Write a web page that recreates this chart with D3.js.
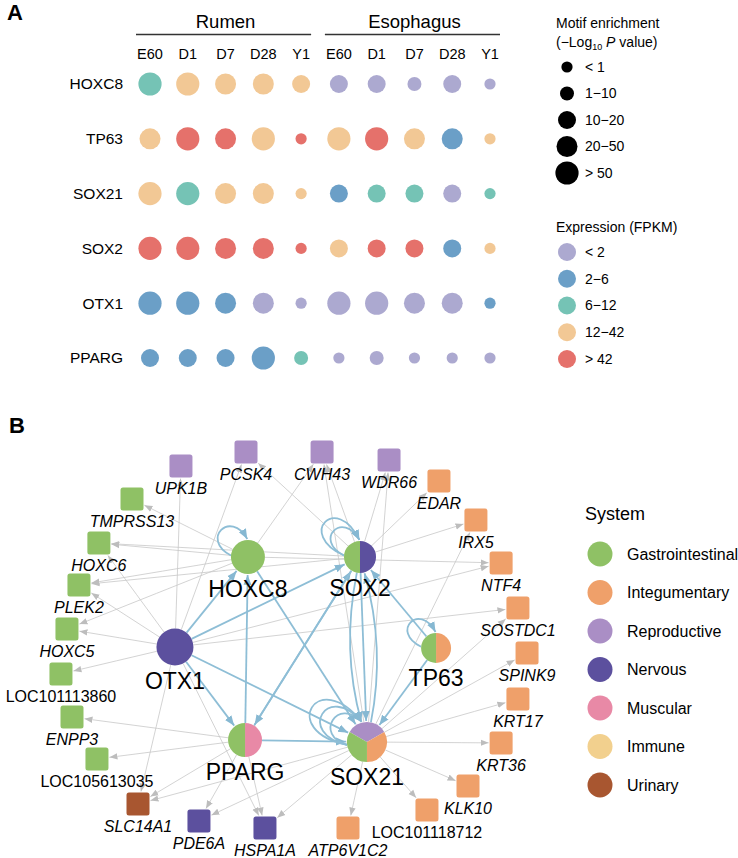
<!DOCTYPE html>
<html>
<head>
<meta charset="utf-8">
<script src="https://cdn.jsdelivr.net/npm/d3@7"></script>
<style>
  body { margin: 0; background: #fff; }
  svg { font-family: "Liberation Sans", Arial, sans-serif; }
</style>
</head>
<body>
<div id="chart"></div>
<script>
// ---------- Panel A data ----------
const tissues = ["Rumen", "Esophagus"];
const timepoints = ["E60", "D1", "D7", "D28", "Y1"];
const tfs = ["HOXC8", "TP63", "SOX21", "SOX2", "OTX1", "PPARG"];
const motifLabels = ["< 1", "1\u221210", "10\u221220", "20\u221250", "> 50"];
const exprLabels = ["< 2", "2\u22126", "6\u221212", "12\u221242", "> 42"];
// class index per TF (row) and sample (Rumen E60..Y1, Esophagus E60..Y1)
const motifClass = [
  [4, 4, 3, 3, 2, 2, 2, 1, 2, 0],
  [3, 4, 3, 4, 0, 4, 4, 3, 3, 0],
  [4, 4, 3, 3, 0, 2, 2, 2, 2, 0],
  [4, 4, 3, 3, 0, 2, 2, 2, 2, 0],
  [4, 4, 3, 3, 0, 4, 4, 3, 3, 0],
  [2, 2, 2, 4, 1, 0, 1, 0, 0, 0]
];
const exprClass = [
  [2, 3, 3, 3, 3, 0, 0, 0, 0, 0],
  [3, 4, 4, 3, 4, 3, 4, 3, 1, 3],
  [3, 2, 3, 3, 3, 1, 2, 2, 0, 2],
  [4, 4, 4, 4, 4, 3, 4, 4, 1, 3],
  [1, 1, 1, 0, 0, 0, 0, 0, 0, 1],
  [1, 1, 1, 1, 2, 0, 0, 0, 0, 0]
];

// ---------- Panel B data ----------
const systems = ["Gastrointestinal", "Integumentary", "Reproductive", "Nervous", "Muscular", "Immune", "Urinary"];
const hubs = ["HOXC8", "SOX2", "OTX1", "TP63", "PPARG", "SOX21"];
// systems of each hub, clockwise from 12 o'clock
const hubSystems = [
  ["Gastrointestinal"],
  ["Nervous", "Gastrointestinal"],
  ["Nervous"],
  ["Integumentary", "Gastrointestinal"],
  ["Muscular", "Gastrointestinal"],
  ["Reproductive", "Integumentary", "Gastrointestinal"]
];
const targets = ["UPK1B", "PCSK4", "CWH43", "WDR66", "EDAR", "IRX5", "NTF4", "SOSTDC1", "SPINK9",
  "KRT17", "KRT36", "KLK10", "LOC101118712", "ATP6V1C2", "HSPA1A", "PDE6A", "SLC14A1",
  "LOC105613035", "ENPP3", "LOC101113860", "HOXC5", "PLEK2", "HOXC6", "TMPRSS13"];
const targetSystems = ["Reproductive", "Reproductive", "Reproductive", "Reproductive",
  "Integumentary", "Integumentary", "Integumentary", "Integumentary", "Integumentary",
  "Integumentary", "Integumentary", "Integumentary", "Integumentary", "Integumentary",
  "Nervous", "Nervous", "Urinary",
  "Gastrointestinal", "Gastrointestinal", "Gastrointestinal", "Gastrointestinal",
  "Gastrointestinal", "Gastrointestinal", "Gastrointestinal"];
// TF -> TF regulation
const tfEdges = [
  ["OTX1", "HOXC8"], ["OTX1", "SOX2"], ["OTX1", "PPARG"], ["OTX1", "SOX21"],
  ["PPARG", "SOX21"], ["PPARG", "HOXC8"], ["PPARG", "SOX2"],
  ["HOXC8", "SOX21"], ["SOX2", "SOX21"], ["SOX2", "PPARG"],
  ["TP63", "SOX2"], ["TP63", "SOX21"]
];
const tfEdgesCurved = [["SOX2", "SOX21"], ["SOX21", "SOX2"]];
const selfLoops = [["HOXC8", 1], ["SOX2", 2], ["TP63", 1], ["SOX21", 3]];
// TF -> target gene
const targetEdges = [
  ["HOXC8", "TMPRSS13"], ["HOXC8", "HOXC6"], ["HOXC8", "PLEK2"], ["HOXC8", "HOXC5"], ["HOXC8", "CWH43"], ["HOXC8", "NTF4"],
  ["SOX2", "PCSK4"], ["SOX2", "CWH43"], ["SOX2", "WDR66"], ["SOX2", "EDAR"], ["SOX2", "IRX5"], ["SOX2", "PLEK2"], ["SOX2", "HOXC6"],
  ["OTX1", "UPK1B"], ["OTX1", "PCSK4"], ["OTX1", "HOXC6"], ["OTX1", "PLEK2"], ["OTX1", "HOXC5"], ["OTX1", "LOC101113860"],
  ["OTX1", "SLC14A1"], ["OTX1", "HSPA1A"], ["OTX1", "SOSTDC1"], ["OTX1", "NTF4"],
  ["PPARG", "ENPP3"], ["PPARG", "LOC105613035"], ["PPARG", "SLC14A1"], ["PPARG", "PDE6A"], ["PPARG", "HSPA1A"],
  ["SOX21", "SOSTDC1"], ["SOX21", "SPINK9"], ["SOX21", "KRT17"], ["SOX21", "KRT36"], ["SOX21", "KLK10"],
  ["SOX21", "LOC101118712"], ["SOX21", "ATP6V1C2"], ["SOX21", "HSPA1A"], ["SOX21", "PDE6A"], ["SOX21", "SLC14A1"],
  ["SOX21", "IRX5"], ["SOX21", "WDR66"], ["SOX21", "CWH43"]
];

// ---------- layout of the network (normalised frame) ----------
const layout = {
  HOXC8: [-0.217, -0.426], SOX2: [0.25, -0.426], OTX1: [-0.521, 0.036], TP63: [0.567, 0.041],
  PPARG: [-0.229, 0.513], SOX21: [0.279, 0.523],
  UPK1B: [-0.496, -0.892], PCSK4: [-0.225, -0.964], CWH43: [0.092, -0.964], WDR66: [0.371, -0.923],
  EDAR: [0.579, -0.815], IRX5: [0.733, -0.615], NTF4: [0.838, -0.395], SOSTDC1: [0.908, -0.164],
  SPINK9: [0.946, 0.067], KRT17: [0.908, 0.303], KRT36: [0.838, 0.528], KLK10: [0.7, 0.749],
  LOC101118712: [0.529, 0.872], ATP6V1C2: [0.2, 0.964], HSPA1A: [-0.146, 0.964], PDE6A: [-0.421, 0.928],
  SLC14A1: [-0.675, 0.841], LOC105613035: [-0.846, 0.61], ENPP3: [-0.95, 0.395], LOC101113860: [-0.996, 0.174],
  HOXC5: [-0.971, -0.056], PLEK2: [-0.921, -0.282], HOXC6: [-0.838, -0.497], TMPRSS13: [-0.7, -0.723]
};
const hubRadius = { HOXC8: 17, SOX2: 16, OTX1: 18.5, TP63: 15, PPARG: 17, SOX21: 20 };
// loop orientation (start / end angle in degrees) per hub
const loopAngles = { HOXC8: [185, 268], SOX2: [185, 268], TP63: [185, 268], SOX21: [172, 255] };

const W = 738, H = 858;
const svg = d3.select("#chart").append("svg")
  .attr("width", W).attr("height", H);
svg.append("rect").attr("width", W).attr("height", H).attr("fill", "#fff");

// ================= Panel A =================
const exprColors = ["#ACA9D0", "#6B9FC7", "#75C3B5", "#F2C895", "#E5716B"];
const sampleIdx = d3.range(tissues.length * timepoints.length);
const x = d3.scalePoint().domain(sampleIdx).range([150, 490]);
const y = d3.scalePoint().domain(tfs).range([84, 358]);
const r = d3.scaleOrdinal().domain(d3.range(5)).range([5.6, 7, 9, 10.5, 11.6]);
const col = d3.scaleOrdinal().domain(d3.range(5)).range(exprColors);

svg.append("text").attr("x", 7).attr("y", 20)
  .attr("font-size", 22).attr("font-weight", "bold").text("A");

tissues.forEach((t, i) => {
  const x0 = x(i * 5), x1 = x(i * 5 + 4);
  svg.append("text").attr("x", (x0 + x1) / 2).attr("y", 28)
    .attr("text-anchor", "middle").attr("font-size", 18.5).text(t);
  svg.append("line").attr("x1", x0 - 14).attr("x2", x1 + 10)
    .attr("y1", 34.5).attr("y2", 34.5).attr("stroke", "#333").attr("stroke-width", 1.3);
});

svg.append("g").selectAll("text").data(sampleIdx).join("text")
  .attr("x", d => x(d)).attr("y", 59).attr("text-anchor", "middle")
  .attr("font-size", 14.5).text(d => timepoints[d % 5]);

svg.append("g").selectAll("text").data(tfs).join("text")
  .attr("x", 123).attr("y", d => y(d)).attr("dy", "0.35em")
  .attr("text-anchor", "end").attr("font-size", 15.5).text(d => d);

const cells = [];
tfs.forEach((tf, i) => sampleIdx.forEach(j => cells.push({ tf, j, m: motifClass[i][j], e: exprClass[i][j] })));
svg.append("g").selectAll("circle").data(cells).join("circle")
  .attr("cx", d => x(d.j)).attr("cy", d => y(d.tf))
  .attr("r", d => r(d.m)).attr("fill", d => col(d.e));

// legends A
const lgA = svg.append("g").attr("font-size", 14);
lgA.append("text").attr("x", 556).attr("y", 28).text("Motif enrichment");
const sub = lgA.append("text").attr("x", 556).attr("y", 47);
sub.append("tspan").text("(\u2212Log");
sub.append("tspan").attr("font-size", 9).attr("dy", 3).text("10");
sub.append("tspan").attr("dy", -3).text(" ");
sub.append("tspan").attr("font-style", "italic").text("P");
sub.append("tspan").text(" value)");
const ym = d3.scalePoint().domain(d3.range(5)).range([67, 173]);
motifLabels.forEach((l, i) => {
  lgA.append("circle").attr("cx", 567).attr("cy", ym(i)).attr("r", r(i)).attr("fill", "#000");
  lgA.append("text").attr("x", 585).attr("y", ym(i)).attr("dy", "0.35em").text(l);
});
lgA.append("text").attr("x", 556).attr("y", 232).text("Expression (FPKM)");
const ye = d3.scalePoint().domain(d3.range(5)).range([252, 359]);
exprLabels.forEach((l, i) => {
  lgA.append("circle").attr("cx", 567).attr("cy", ye(i)).attr("r", 9).attr("fill", col(i));
  lgA.append("text").attr("x", 585).attr("y", ye(i)).attr("dy", "0.35em").text(l);
});

// ================= Panel B =================
const sysColors = ["#8FC165", "#EFA06A", "#AA8EC5", "#5C509E", "#E889A6", "#F2D08E", "#A85630"];
const sysCol = d3.scaleOrdinal().domain(systems).range(sysColors);
const nx = d3.scaleLinear().domain([-1, 1]).range([60, 540]);
const ny = d3.scaleLinear().domain([-1, 1]).range([445, 835]);
const half = 11.5;

const nodes = {};
hubs.forEach((h, i) => nodes[h] = { id: h, hub: true, x: nx(layout[h][0]), y: ny(layout[h][1]), r: hubRadius[h], sys: hubSystems[i] });
targets.forEach((t, i) => nodes[t] = { id: t, hub: false, x: nx(layout[t][0]), y: ny(layout[t][1]), sys: targetSystems[i] });

svg.append("text").attr("x", 9).attr("y", 433)
  .attr("font-size", 22).attr("font-weight", "bold").text("B");

const defs = svg.append("defs");
function marker(id, color, size) {
  defs.append("marker").attr("id", id)
    .attr("viewBox", "0 -5 10 10").attr("refX", 10).attr("refY", 0)
    .attr("markerUnits", "userSpaceOnUse")
    .attr("markerWidth", size).attr("markerHeight", size).attr("orient", "auto")
    .append("path").attr("d", "M0,-4L10,0L0,4Z").attr("fill", color);
}
const grayEdge = "#C8C8C8", blueEdge = "#8EBED6";
marker("arrGray", "#BDBDBD", 8);
marker("arrBlue", "#86B8D2", 10);

function boundary(n, ux, uy) {
  if (n.hub) return n.r;
  return half / Math.max(Math.abs(ux), Math.abs(uy));
}
function edgePath(s, t, bend) {
  const dx = t.x - s.x, dy = t.y - s.y;
  const cx = (s.x + t.x) / 2 - dy * bend, cy = (s.y + t.y) / 2 + dx * bend;
  let ax = cx - s.x, ay = cy - s.y, al = Math.hypot(ax, ay) || 1;
  ax /= al; ay /= al;
  let bx = cx - t.x, by = cy - t.y, bl = Math.hypot(bx, by) || 1;
  bx /= bl; by /= bl;
  const ds = boundary(s, ax, ay), dt = boundary(t, bx, by) + 1;
  const x0 = s.x + ax * ds, y0 = s.y + ay * ds;
  const x1 = t.x + bx * dt, y1 = t.y + by * dt;
  return `M${x0},${y0}Q${cx},${cy} ${x1},${y1}`;
}
function loopPath(n, k) {
  const deg = Math.PI / 180;
  const a1 = loopAngles[n.id][0] * deg, a2 = loopAngles[n.id][1] * deg;
  const L = n.r + 34 + k * 18;
  const sx = n.x + n.r * Math.cos(a1), sy = n.y + n.r * Math.sin(a1);
  const ex = n.x + (n.r + 1) * Math.cos(a2), ey = n.y + (n.r + 1) * Math.sin(a2);
  const c1x = n.x + L * Math.cos(a1 + 15 * deg), c1y = n.y + L * Math.sin(a1 + 15 * deg);
  const c2x = n.x + L * Math.cos(a2 - 18 * deg), c2y = n.y + L * Math.sin(a2 - 18 * deg);
  return `M${sx},${sy}C${c1x},${c1y} ${c2x},${c2y} ${ex},${ey}`;
}

const gEdges = svg.append("g").attr("fill", "none");
gEdges.selectAll("path.t").data(targetEdges).join("path").attr("class", "t")
  .attr("d", d => edgePath(nodes[d[0]], nodes[d[1]], 0))
  .attr("stroke", grayEdge).attr("stroke-width", 0.8)
  .attr("marker-end", "url(#arrGray)");
gEdges.selectAll("path.h").data(tfEdges).join("path").attr("class", "h")
  .attr("d", d => edgePath(nodes[d[0]], nodes[d[1]], 0))
  .attr("stroke", blueEdge).attr("stroke-width", 1.8)
  .attr("marker-end", "url(#arrBlue)");
gEdges.selectAll("path.c").data(tfEdgesCurved).join("path").attr("class", "c")
  .attr("d", d => edgePath(nodes[d[0]], nodes[d[1]], 0.12))
  .attr("stroke", blueEdge).attr("stroke-width", 1.8)
  .attr("marker-end", "url(#arrBlue)");
const loops = [];
selfLoops.forEach(([h, n]) => d3.range(n).forEach(k => loops.push({ h, k })));
gEdges.selectAll("path.l").data(loops).join("path").attr("class", "l")
  .attr("d", d => loopPath(nodes[d.h], d.k))
  .attr("stroke", blueEdge).attr("stroke-width", 1.8)
  .attr("marker-end", "url(#arrBlue)");

// target nodes
const gT = svg.append("g");
targets.forEach(t => {
  const n = nodes[t];
  gT.append("rect").attr("x", n.x - half).attr("y", n.y - half)
    .attr("width", half * 2).attr("height", half * 2).attr("rx", 2.5)
    .attr("fill", sysCol(n.sys));
  gT.append("text").attr("x", n.x).attr("y", n.y + 28)
    .attr("text-anchor", "middle").attr("font-size", 16)
    .attr("font-style", t.startsWith("LOC") ? "normal" : "italic")
    .text(t);
});

// hub nodes (pies)
const arc = d3.arc().innerRadius(0);
const gH = svg.append("g");
hubs.forEach(h => {
  const n = nodes[h];
  const start = n.sys.length === 3 ? -Math.PI / 3 : 0;
  const pie = d3.pie().value(1).sort(null).startAngle(start).endAngle(start + 2 * Math.PI);
  const g = gH.append("g").attr("transform", `translate(${n.x},${n.y})`);
  g.selectAll("path").data(pie(n.sys)).join("path")
    .attr("d", d => arc.outerRadius(n.r)(d))
    .attr("fill", d => sysCol(d.data));
  gH.append("text").attr("x", n.x).attr("y", n.y + n.r + 23)
    .attr("text-anchor", "middle").attr("font-size", 23).text(h);
});

// legend B
const lgB = svg.append("g");
lgB.append("text").attr("x", 585).attr("y", 520).attr("font-size", 18).text("System");
const ys = d3.scalePoint().domain(systems).range([554, 785]);
systems.forEach(s => {
  lgB.append("circle").attr("cx", 600).attr("cy", ys(s)).attr("r", 12.5).attr("fill", sysCol(s));
  lgB.append("text").attr("x", 627).attr("y", ys(s)).attr("dy", "0.35em")
    .attr("font-size", 16).text(s);
});
</script>
</body>
</html>
